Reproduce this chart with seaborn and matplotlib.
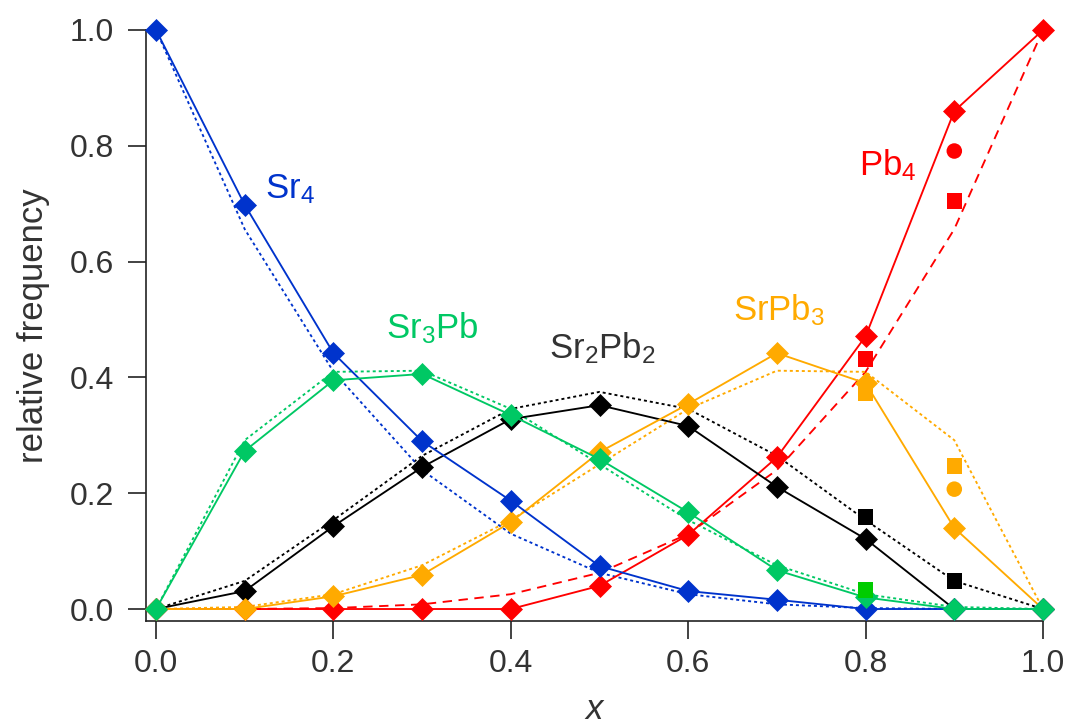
import matplotlib
matplotlib.use("Agg")
import matplotlib.pyplot as plt
import seaborn as sns
import pandas as pd

# ---- data ----
x = [0.0, 0.1, 0.2, 0.3, 0.4, 0.5, 0.6, 0.7, 0.8, 0.9, 1.0]

sr4_sim = [1.0, 0.698, 0.442, 0.290, 0.187, 0.074, 0.031, 0.016, 0.0, 0.0, 0.0]
sr3pb_sim = [0.0, 0.273, 0.395, 0.406, 0.335, 0.259, 0.167, 0.067, 0.020, 0.0, 0.0]
sr2pb2_sim = [0.0, 0.031, 0.143, 0.245, 0.328, 0.352, 0.316, 0.211, 0.121, 0.0, 0.0]
srpb3_sim = [0.0, 0.0, 0.022, 0.059, 0.150, 0.271, 0.354, 0.442, 0.390, 0.140, 0.0]
pb4_sim = [0.0, 0.0, 0.0, 0.0, 0.0, 0.040, 0.128, 0.262, 0.471, 0.860, 1.0]

sr4_ref = [1.0, 0.656, 0.410, 0.240, 0.130, 0.0625, 0.0256, 0.0081, 0.0016, 0.0001, 0.0]
sr3pb_ref = [0.0, 0.2916, 0.4096, 0.4116, 0.3456, 0.25, 0.1536, 0.0756, 0.0256, 0.0036, 0.0]
sr2pb2_ref = [0.0, 0.0486, 0.1536, 0.2646, 0.3456, 0.375, 0.3456, 0.2646, 0.1536, 0.0486, 0.0]
srpb3_ref = [0.0, 0.0036, 0.0256, 0.0756, 0.1536, 0.25, 0.3456, 0.4116, 0.4096, 0.2916, 0.0]
pb4_ref = [0.0, 0.0001, 0.0016, 0.0081, 0.0256, 0.0625, 0.1296, 0.2401, 0.4096, 0.6561, 1.0]

# extra points (squares / circles)
sq_x = [0.8, 0.9, 0.8, 0.9, 0.8, 0.9, 0.8]
sq_y = [0.159, 0.048, 0.373, 0.247, 0.432, 0.705, 0.033]
sq_series = ["Sr2Pb2", "Sr2Pb2", "SrPb3", "SrPb3", "Pb4", "Pb4", "Sr3Pb"]
ci_x = [0.9, 0.9]
ci_y = [0.207, 0.791]
ci_series = ["SrPb3", "Pb4"]

labels = {"Sr4": "Sr$_{4}$", "Sr3Pb": "Sr$_{3}$Pb", "Sr2Pb2": "Sr$_{2}$Pb$_{2}$",
          "SrPb3": "SrPb$_{3}$", "Pb4": "Pb$_{4}$"}
label_pos = {"Sr4": (0.123, 0.71), "Sr3Pb": (0.259, 0.468), "Sr2Pb2": (0.443, 0.4335),
             "SrPb3": (0.650, 0.499), "Pb4": (0.793, 0.7496)}

colors = {"Sr4": "#0033CC", "Sr3Pb": "#00C864", "Sr2Pb2": "#000000",
          "SrPb3": "#FFAA00", "Pb4": "#FF0000"}
label_colors = {"Sr4": "#0033CC", "Sr3Pb": "#00C864", "Sr2Pb2": "#333333",
                "SrPb3": "#FFAA00", "Pb4": "#FF0000"}
sq_colors = {"Sr2Pb2": "#000000", "SrPb3": "#FFAA00", "Pb4": "#FF0000", "Sr3Pb": "#00CC00"}

sim = {"Sr4": sr4_sim, "Sr3Pb": sr3pb_sim, "Sr2Pb2": sr2pb2_sim, "SrPb3": srpb3_sim, "Pb4": pb4_sim}
ref = {"Sr4": sr4_ref, "Sr3Pb": sr3pb_ref, "Sr2Pb2": sr2pb2_ref, "SrPb3": srpb3_ref, "Pb4": pb4_ref}

# ---- style ----
sns.set_style("ticks")
plt.rcParams["font.family"] = ["Liberation Sans", "DejaVu Sans"]
plt.rcParams["mathtext.fontset"] = "custom"
plt.rcParams["mathtext.rm"] = "Liberation Sans"
plt.rcParams["mathtext.it"] = "Liberation Sans:italic"

fig = plt.figure(figsize=(10.69, 7.24), dpi=100)
ax = fig.add_axes([146 / 1069, 1 - 621 / 724, (1043 - 146) / 1069, (621 - 30) / 724])

order = ["Pb4", "Sr2Pb2", "SrPb3", "Sr4", "Sr3Pb"]

# reference (dotted/dashed) lines
for key in order:
    df = pd.DataFrame({"x": x, "y": ref[key]})
    ls = (0, (5, 3.5)) if key == "Pb4" else (0, (1.6, 1.6))
    sns.lineplot(data=df, x="x", y="y", ax=ax, color=colors[key], lw=1.35,
                 linestyle=ls, sort=False, estimator=None, zorder=2)

# simulated lines with diamonds
for key in order:
    df = pd.DataFrame({"x": x, "y": sim[key]})
    sns.lineplot(data=df, x="x", y="y", ax=ax, color=colors[key], lw=1.35,
                 marker="D", markersize=11, markeredgewidth=0.5,
                 markeredgecolor=colors[key], sort=False, estimator=None,
                 zorder=3, clip_on=False)

# squares and circles
sq_df = pd.DataFrame({"x": sq_x, "y": sq_y, "s": sq_series})
ci_df = pd.DataFrame({"x": ci_x, "y": ci_y, "s": ci_series})
sns.scatterplot(data=sq_df, x="x", y="y", hue="s", palette=sq_colors, marker="s",
                s=125, linewidth=0, ax=ax, legend=False, zorder=4)
sns.scatterplot(data=ci_df, x="x", y="y", hue="s", palette=sq_colors, marker="o",
                s=125, linewidth=0, ax=ax, legend=False, zorder=4)

for key in order:
    px, py = label_pos[key]
    ax.text(px, py, labels[key], color=label_colors[key], fontsize=25,
            ha="left", va="baseline")

ax.set_xlim(-0.0113, 1.0)
ax.set_ylim(-0.0207, 1.0)
ax.set_xticks([0.0, 0.2, 0.4, 0.6, 0.8, 1.0])
ax.set_yticks([0.0, 0.2, 0.4, 0.6, 0.8, 1.0])
ax.set_xticklabels(["0.0", "0.2", "0.4", "0.6", "0.8", "1.0"])
ax.set_yticklabels(["0.0", "0.2", "0.4", "0.6", "0.8", "1.0"])
ax.tick_params(axis="both", direction="out", length=13, width=1.2,
               labelsize=23, labelcolor="#333333", color="#222222")
ax.tick_params(axis="x", pad=7)
ax.tick_params(axis="y", pad=10)
for side in ["left", "bottom"]:
    ax.spines[side].set_linewidth(1.2)
    ax.spines[side].set_color("#222222")
sns.despine(ax=ax)

ax.set_xlabel("x", fontsize=25, fontstyle="italic", color="#333333", labelpad=10)
ax.set_ylabel("relative frequency", fontsize=25, color="#333333", labelpad=14)

fig.savefig("out.png", dpi=100)
